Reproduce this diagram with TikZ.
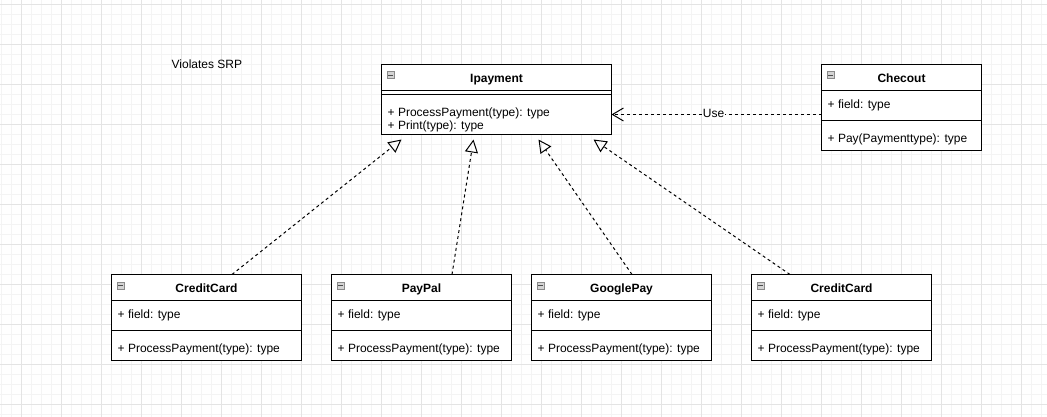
\documentclass[tikz,border=0pt]{standalone}
\usepackage{fontspec}
\setmainfont{Liberation Sans}
\usetikzlibrary{arrows.meta,calc}
\definecolor{gridminor}{HTML}{F4F4F4}
\definecolor{gridmajor}{HTML}{E4E4E4}
\definecolor{iconfill}{HTML}{D4D4D4}
\definecolor{iconline}{HTML}{8A8A8A}
\tikzset{
  box/.style={draw=black, fill=white, line width=1pt, inner sep=0pt, outer sep=0pt},
  ttl/.style={font=\fontsize{12}{14}\selectfont\bfseries, anchor=base, inner sep=0pt},
  txt/.style={font=\fontsize{12}{14}\selectfont, anchor=base west, inner sep=0pt},
  minorline/.style={draw=gridminor, line width=1pt},
  majorline/.style={draw=gridmajor, line width=1pt},
  depline/.style={line width=1pt, dash pattern=on 3pt off 3pt},
  realize/.style={depline, -{Triangle[open, length=13pt, width=13pt, line width=1pt]}},
  uses/.style={depline, -{Straight Barb[length=11pt, width=13pt, line width=1pt]}},
  lbl/.style={font=\fontsize{12}{14}\selectfont, fill=white, inner sep=1pt, anchor=base}
}
\newcommand{\collapseicon}[1]{%
  \node[draw=iconline, fill=iconfill, line width=0.6pt, minimum width=7pt, minimum height=7pt, inner sep=0pt, anchor=north west] (#1-ic) at ($(#1.north west)+(5,7)$) {};
  \draw[line width=1pt, draw=black!70] ($(#1-ic.west)+(1.5,0)$) -- ($(#1-ic.east)+(-1.5,0)$);
}
\newcommand{\mkclass}[7]{%
  \node[box, anchor=north west, minimum width=#4, minimum height=86] (#1) at (#2,#3) {};
  \draw[line width=1pt] ($(#1.north west)+(0,26)$) -- ($(#1.north east)+(0,26)$);
  \draw[line width=1pt] ($(#1.north west)+(0,56)$) -- ($(#1.north east)+(0,56)$);
  \node[ttl] (#1-t) at ($(#1.north)+(0,18)$) {#5};
  \node[txt] (#1-f) at ($(#1.north west)+(6,44)$) {#6};
  \node[txt] (#1-m) at ($(#1.north west)+(6,78)$) {#7};
  \collapseicon{#1}
}
\begin{document}
\begin{tikzpicture}[x=1pt,y=-1pt]
  \useasboundingbox (0,0) rectangle (1047,417);
  \fill[white] (0,0) rectangle (1047,417);
  % grid
  \foreach \gx in {1.5,11.5,...,1041.5} \draw[minorline] (\gx,0) -- (\gx,417);
  \foreach \gy in {4.5,14.5,...,414.5} \draw[minorline] (0,\gy) -- (1047,\gy);
  \foreach \gx in {21.5,61.5,...,1021.5} \draw[majorline] (\gx,0) -- (\gx,417);
  \foreach \gy in {4.5,44.5,...,404.5} \draw[majorline] (0,\gy) -- (1047,\gy);

  % title text
  \node[txt] (note) at (171.5,68.3) {Violates SRP};

  % Ipayment interface
  \node[box, anchor=north west, minimum width=230, minimum height=70] (ip) at (381.5,64.5) {};
  \draw[line width=1pt] ($(ip.north west)+(0,26)$) -- ($(ip.north east)+(0,26)$);
  \draw[line width=1pt] ($(ip.north west)+(0,30)$) -- ($(ip.north east)+(0,30)$);
  \node[ttl] (ip-t) at ($(ip.north)+(0,18)$) {Ipayment};
  \node[txt] (ip-m1) at ($(ip.north west)+(6,52)$) {+ ProcessPayment(type): type};
  \node[txt] (ip-m2) at ($(ip.north west)+(6,65.5)$) {+ Print(type): type};
  \collapseicon{ip}

  % Checout
  \mkclass{chk}{821.5}{64.5}{160}{Checout}{+ field: type}{+ Pay(Paymenttype): type}

  % implementing classes
  \mkclass{cca}{111.5}{274.5}{190}{CreditCard}{+ field: type}{+ ProcessPayment(type): type}
  \mkclass{pp}{331.5}{274.5}{180}{PayPal}{+ field: type}{+ ProcessPayment(type): type}
  \mkclass{gp}{531.5}{274.5}{180}{GooglePay}{+ field: type}{+ ProcessPayment(type): type}
  \mkclass{ccb}{751.5}{274.5}{180}{CreditCard}{+ field: type}{+ ProcessPayment(type): type}

  % connector end points
  \coordinate (cca-s) at ($(cca.north west)+(120.5,0)$);
  \coordinate (pp-s) at ($(pp.north west)+(120.5,0)$);
  \coordinate (gp-s) at ($(gp.north west)+(100.5,0)$);
  \coordinate (ccb-s) at ($(ccb.north west)+(38.5,0)$);
  \coordinate (ip-t1) at ($(ip.south west)+(20,5)$);
  \coordinate (ip-t2) at ($(ip.south west)+(92,5)$);
  \coordinate (ip-t3) at ($(ip.south west)+(157,5)$);
  \coordinate (ip-t4) at ($(ip.south west)+(212,5)$);
  \coordinate (chk-u) at ($(chk.north west)+(0,50)$);
  \coordinate (ip-u) at ($(ip.north east)+(0,50)$);

  % realizations
  \draw[realize] (cca-s) -- (ip-t1);
  \draw[realize] (pp-s) -- (ip-t2);
  \draw[realize] (gp-s) -- (ip-t3);
  \draw[realize] (ccb-s) -- (ip-t4);

  % usage
  \draw[uses] (chk-u) -- (ip-u);
  \node[lbl] (uselbl) at (713.5,118) {Use};
\end{tikzpicture}
\end{document}
